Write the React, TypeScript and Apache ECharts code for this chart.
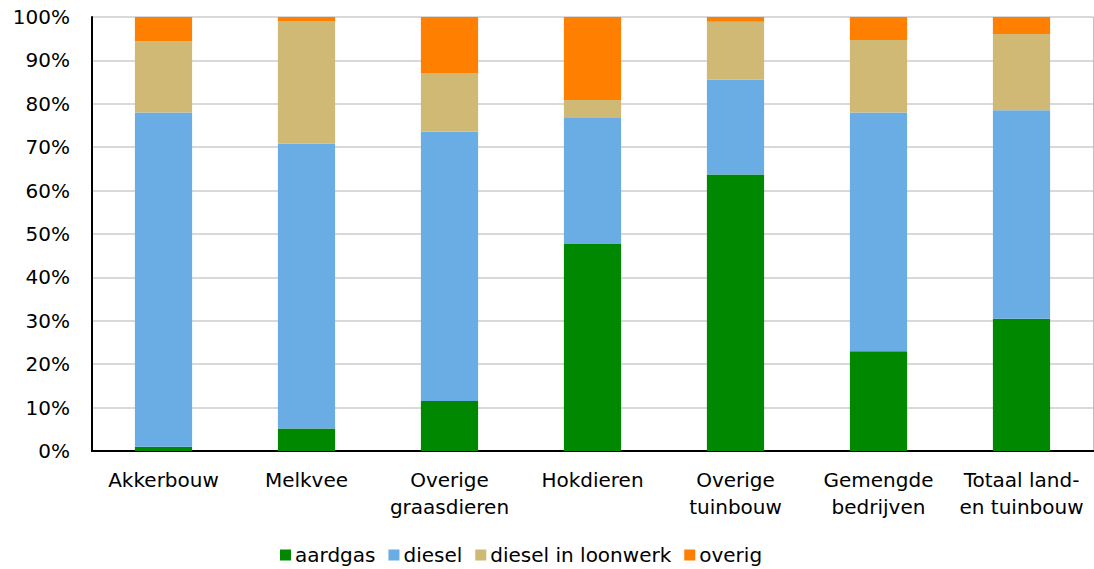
import React, { useEffect, useRef } from "react";
import * as echarts from "echarts";

const categories = [
  "Akkerbouw",
  "Melkvee",
  "Overige\ngraasdieren",
  "Hokdieren",
  "Overige\ntuinbouw",
  "Gemengde\nbedrijven",
  "Totaal land-\nen tuinbouw",
];
const aardgas = [1.0, 5.2, 11.5, 47.7, 63.7, 23.0, 30.5];
const diesel = [77.0, 65.6, 62.1, 29.0, 21.9, 55.0, 48.0];
const dieselLoonwerk = [16.4, 28.3, 13.5, 4.2, 13.3, 16.7, 17.6];
const overig = [5.6, 0.9, 12.9, 19.1, 1.1, 5.3, 3.9];

const FONT = "Verdana, 'DejaVu Sans', sans-serif";
const FS = 20;

export default function App() {
  const ref = useRef<HTMLDivElement>(null);
  useEffect(() => {
    if (!ref.current) return;
    const chart = echarts.init(ref.current, undefined, { renderer: "svg" });
    const mk = (name: string, data: number[], color: string) => ({
      name,
      type: "bar",
      stack: "total",
      data,
      barWidth: "40%",
      itemStyle: { color },
    });
    chart.setOption({
      animation: false,
      textStyle: { fontFamily: FONT },
      grid: { left: 92, right: 1, top: 17, bottom: 118, containLabel: false },
      legend: {
        left: 275,
        top: 538,
        itemWidth: 11,
        itemHeight: 11,
        itemGap: 13,
        icon: "rect",
        textStyle: { fontFamily: FONT, fontSize: FS, color: "#000", padding: [0, 0, 0, -1], lineHeight: 24 },
        data: ["aardgas", "diesel", "diesel in loonwerk", "overig"],
      },
      xAxis: [
        {
          type: "category",
          data: categories,
          axisLine: { show: true, lineStyle: { color: "#000", width: 2 } },
          axisTick: { show: false },
          axisLabel: {
            interval: 0,
            color: "#000",
            fontFamily: FONT,
            fontSize: FS,
            lineHeight: 27,
            margin: 15,
          },
        },
        {
          type: "category",
          data: categories,
          position: "top",
          axisLine: { show: true, lineStyle: { color: "#000", width: 2 } },
          axisTick: { show: false },
          axisLabel: { show: false },
        },
      ],
      yAxis: [
        {
          type: "value",
          min: 0,
          max: 100,
          interval: 10,
          axisLine: { show: true, lineStyle: { color: "#000", width: 2 } },
          axisTick: { show: false },
          axisLabel: {
            formatter: "{value}%",
            color: "#000",
            fontFamily: FONT,
            fontSize: FS,
            margin: 22,
          },
          splitLine: { show: true, lineStyle: { color: "#d9d9d9", width: 2 } },
        },
        {
          type: "value",
          min: 0,
          max: 100,
          interval: 10,
          position: "right",
          axisLine: { show: true, lineStyle: { color: "#bfbfbf", width: 1 } },
          axisTick: { show: false },
          axisLabel: { show: false },
          splitLine: { show: false },
        },
      ],
      series: [
        mk("aardgas", aardgas, "#008800"),
        mk("diesel", diesel, "#6aade4"),
        mk("diesel in loonwerk", dieselLoonwerk, "#d0b974"),
        mk("overig", overig, "#ff7f00"),
      ],
    });
    return () => chart.dispose();
  }, []);
  return (
    <div
      ref={ref}
      style={{ position: "fixed", left: 0, top: 0, width: 1094, height: 569, background: "#fff" }}
    />
  );
}
